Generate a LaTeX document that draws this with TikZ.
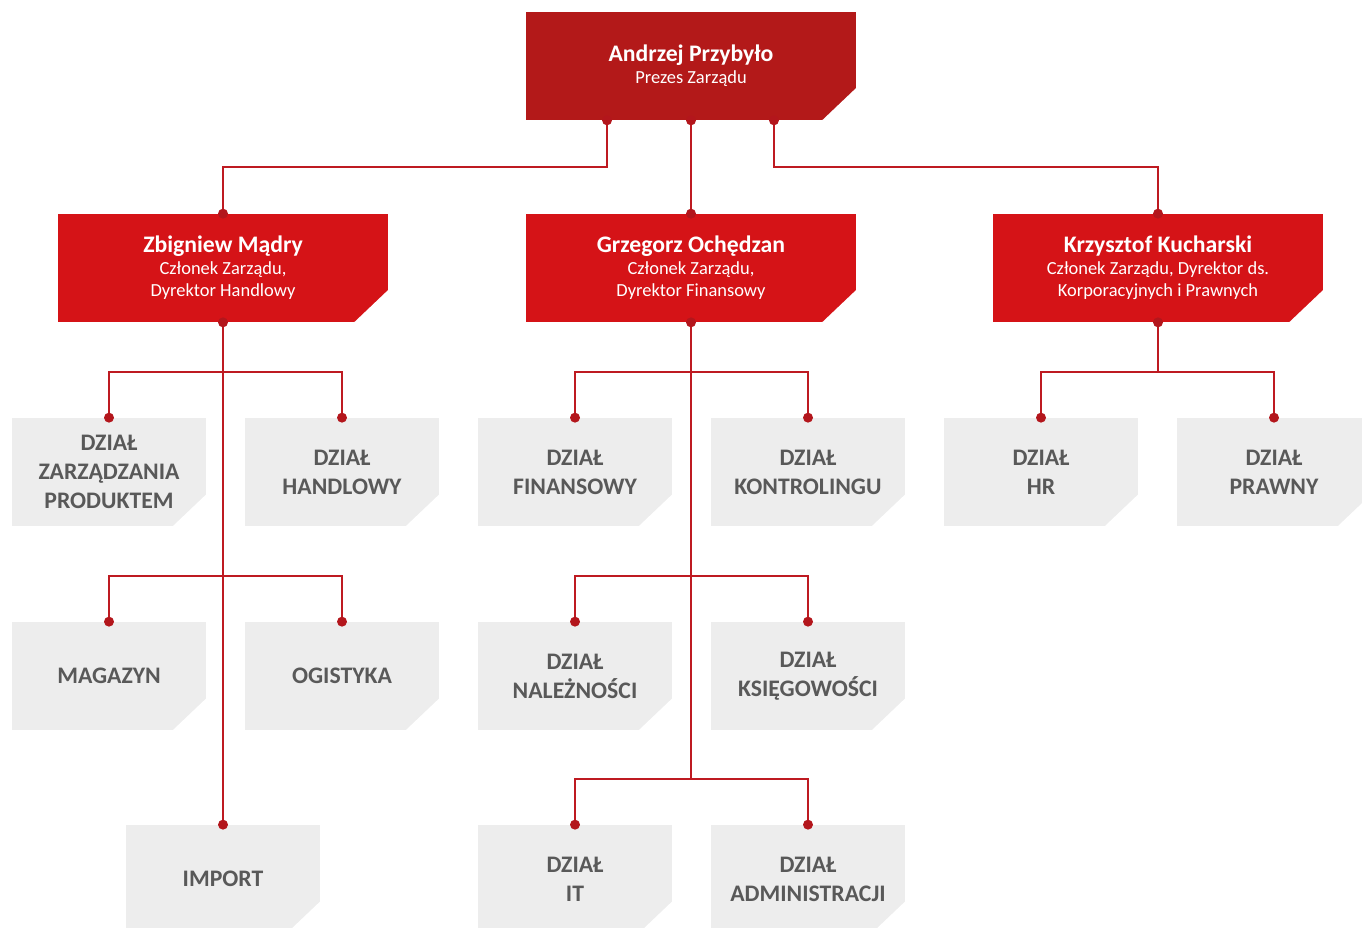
\documentclass[tikz,border=0pt]{standalone}
\usepackage{fontspec}
\setmainfont{Carlito}
\definecolor{prezesRed}{HTML}{B31919}
\definecolor{zarzadRed}{HTML}{D51317}
\definecolor{linkRed}{HTML}{BE1A21}
\definecolor{dotRed}{HTML}{B3161C}
\definecolor{dzialGrey}{HTML}{EDEDED}
\definecolor{dzialText}{HTML}{595959}
\newcommand{\imie}[1]{{\fontsize{13.5}{14}\selectfont\bfseries #1}}
\begin{document}
\begin{tikzpicture}[x=0.02cm,y=-0.02cm,
    box/.style={rectangle, inner sep=0pt, align=center,
        path picture={\fill[white] ([xshift=-0.67cm]path picture bounding box.south east)
            -- ([yshift=-1pt,xshift=1pt]path picture bounding box.south east)
            -- ([xshift=1pt,yshift=0.67cm]path picture bounding box.south east) -- cycle;}},
    prezes/.style={box, fill=prezesRed, text=white, minimum width=6.6cm, minimum height=2.16cm,
        font=\fontsize{10.5}{12.5}\selectfont},
    czlonek/.style={prezes, fill=zarzadRed},
    dzial/.style={box, fill=dzialGrey, text=dzialText, minimum width=3.9cm, minimum height=2.16cm,
        font=\fontsize{13.5}{16.5}\selectfont\bfseries},
    link/.style={line width=1.1pt, draw=linkRed}]
    \useasboundingbox (0,0) rectangle (1362,928);

    % prezes
    \node[prezes] (prezes) at (691,66) {\imie{Andrzej Przybyło}\\Prezes Zarządu};

    % level1
    \node[czlonek] (madry) at (223,268) {\imie{Zbigniew Mądry}\\Członek Zarządu,\\Dyrektor Handlowy};
    \node[czlonek] (ochedzan) at (691,268) {\imie{Grzegorz Ochędzan}\\Członek Zarządu,\\Dyrektor Finansowy};
    \node[czlonek] (kucharski) at (1158,268) {\imie{Krzysztof Kucharski}\\Członek Zarządu, Dyrektor ds.\\Korporacyjnych i Prawnych};

    % prezes - level1
    \coordinate (prezesL) at ([xshift=-1.68cm]prezes.south);
    \coordinate (prezesR) at ([xshift=1.66cm]prezes.south);
    \draw[link] (prezesL) -- ++(0,47) -| (madry.north);
    \draw[link] (prezes.south) -- (ochedzan.north);
    \draw[link] (prezesR) -- ++(0,47) -| (kucharski.north);

    % dzialy madry
    \node[dzial] (dzProdukt) at (109,472) {DZIAŁ\\ZARZĄDZANIA\\PRODUKTEM};
    \node[dzial] (dzHandlowy) at (342,472) {DZIAŁ\\HANDLOWY};
    \node[dzial] (magazyn) at (109,676) {MAGAZYN};
    \node[dzial] (logistyka) at (342,676) {OGISTYKA};
    \node[dzial] (import) at (223,879) {IMPORT};

    % dzialy ochedzan
    \node[dzial] (dzFinansowy) at (575,472) {DZIAŁ\\FINANSOWY};
    \node[dzial] (dzKontroling) at (808,472) {DZIAŁ\\KONTROLINGU};
    \node[dzial] (dzNaleznosci) at (575,676) {DZIAŁ\\NALEŻNOŚCI};
    \node[dzial] (dzKsiegowosc) at (808,676) {DZIAŁ\\KSIĘGOWOŚCI};
    \node[dzial] (dzIT) at (575,879) {DZIAŁ\\IT};
    \node[dzial] (dzAdmin) at (808,879) {DZIAŁ\\ADMINISTRACJI};

    % dzialy kucharski
    \node[dzial] (dzHR) at (1041,472) {DZIAŁ\\HR};
    \node[dzial] (dzPrawny) at (1274,472) {DZIAŁ\\PRAWNY};

    % level1 - dzialy
    \coordinate (ochedzanKoniec) at (691,778);
    \draw[link] (madry.south) -- (import.north);
    \draw[link] (dzProdukt.north) -- ++(0,-46) -| (dzHandlowy.north);
    \draw[link] (magazyn.north) -- ++(0,-46) -| (logistyka.north);
    \draw[link] (ochedzan.south) -- (ochedzanKoniec);
    \draw[link] (dzFinansowy.north) -- ++(0,-46) -| (dzKontroling.north);
    \draw[link] (dzNaleznosci.north) -- ++(0,-46) -| (dzKsiegowosc.north);
    \draw[link] (dzIT.north) -- ++(0,-46) -| (dzAdmin.north);
    \draw[link] (kucharski.south) -- ++(0,49);
    \draw[link] (dzHR.north) -- ++(0,-46) -| (dzPrawny.north);

    % kropki
    \foreach \n in {prezesL, prezes.south, prezesR, madry.north, ochedzan.north, kucharski.north,
        madry.south, ochedzan.south, kucharski.south, dzProdukt.north, dzHandlowy.north,
        magazyn.north, logistyka.north, import.north, dzFinansowy.north, dzKontroling.north,
        dzNaleznosci.north, dzKsiegowosc.north, dzIT.north, dzAdmin.north, dzHR.north, dzPrawny.north}
        \fill[dotRed] (\n) circle (0.1cm);
\end{tikzpicture}
\end{document}
